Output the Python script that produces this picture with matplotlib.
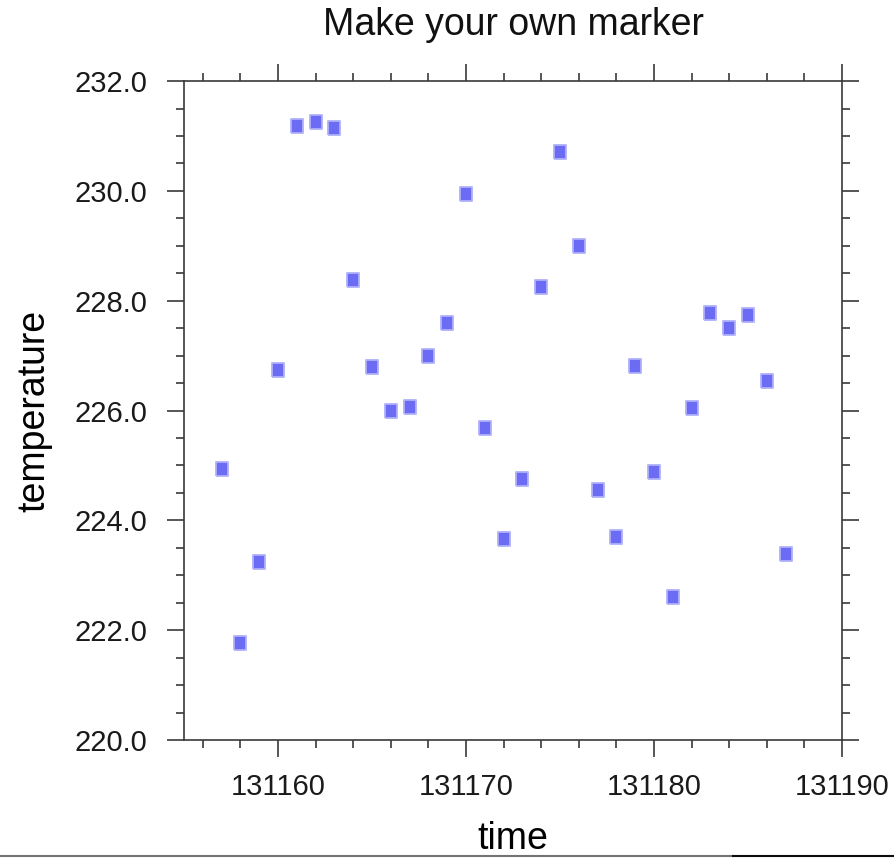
import numpy as np
import matplotlib
matplotlib.use("Agg")
import matplotlib.pyplot as plt
from matplotlib.ticker import MultipleLocator, FormatStrFormatter
from matplotlib.lines import Line2D

plt.rcParams['font.family'] = ['Liberation Sans', 'DejaVu Sans']

# hourly time stamps and temperatures
time = np.arange(131157, 131188)
temperature = [224.93, 221.76, 223.24, 226.74, 231.18, 231.25, 231.14, 228.38,
               226.79, 225.99, 226.06, 226.99, 227.59, 229.94, 225.68, 223.66,
               224.75, 228.25, 230.71, 228.99, 224.55, 223.69, 226.81, 224.88,
               222.60, 226.04, 227.77, 227.50, 227.74, 226.54, 223.38]

fig = plt.figure(figsize=(8.94, 8.58), dpi=100)
ax = fig.add_axes([0.2058, 0.1375, 0.736, 0.768])

# little upright box as the marker
box = [(-5, -5.6), (5, -5.6), (5, 5.6), (-5, 5.6), (-5, -5.6)]
ax.plot(time, temperature, linestyle='none', marker=box, markersize=9.5,
        markerfacecolor='#6b6bf3', markeredgecolor='#b0b0fb', markeredgewidth=1.3)

ax.set_xlim(131155, 131190)
ax.set_ylim(220, 232)
ax.xaxis.set_major_locator(MultipleLocator(10))
ax.xaxis.set_minor_locator(MultipleLocator(2))
ax.yaxis.set_major_locator(MultipleLocator(2))
ax.yaxis.set_minor_locator(MultipleLocator(0.5))
ax.xaxis.set_major_formatter(FormatStrFormatter('%d'))
ax.yaxis.set_major_formatter(FormatStrFormatter('%.1f'))

axcol = '#3a3a3a'
for s in ax.spines.values():
    s.set_color(axcol)
    s.set_linewidth(1.2)
ax.tick_params(which='both', direction='out', top=True, right=True, colors=axcol,
               width=1.2, labelcolor='#1a1a1a', labelsize=21)
ax.tick_params(which='major', length=12.5)
ax.tick_params(which='minor', length=5.5)
ax.tick_params(axis='x', which='major', pad=11)
ax.tick_params(axis='y', which='major', pad=14)

ax.set_xlabel('time', fontsize=27, labelpad=15)
ax.set_ylabel('temperature', fontsize=27, labelpad=16)
ax.text(0.5, 1.07, 'Make your own marker', transform=ax.transAxes,
        ha='center', va='baseline', fontsize=27, color='#111111')

# strip along the bottom edge
fig.add_artist(Line2D([0, 0.82], [0.002, 0.002], transform=fig.transFigure,
                      color='0.45', lw=1.5))
fig.add_artist(Line2D([0.82, 1], [0.002, 0.002], transform=fig.transFigure,
                      color='0.05', lw=1.5))

fig.savefig('out.png', dpi=100)
